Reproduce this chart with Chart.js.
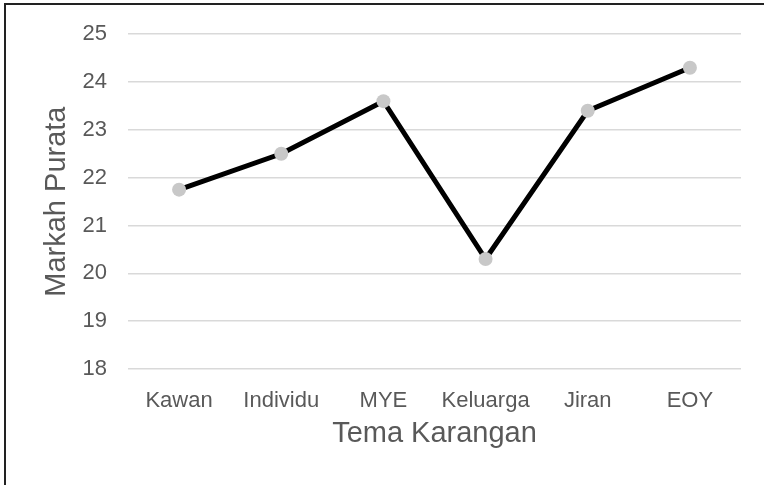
<!DOCTYPE html>
<html>
<head>
<meta charset="utf-8">
<script src="https://cdn.jsdelivr.net/npm/chart.js@4"></script>
<style>
  html, body { margin: 0; padding: 0; background: #fff; }
  #wrap { position: relative; width: 764px; height: 485px; }
  #frame {
    position: absolute; left: 4px; top: 3px; right: -10px; bottom: -10px;
    border-top: 2px solid #222; border-left: 2px solid #222;
    pointer-events: none;
  }
</style>
</head>
<body>
<div id="wrap">
  <canvas id="chart" width="764" height="485"></canvas>
  <div id="frame"></div>
</div>
<script>
// chart data
const categories = ['Kawan', 'Individu', 'MYE', 'Keluarga', 'Jiran', 'EOY'];
const markahPurata = [21.75, 22.5, 23.6, 20.3, 23.4, 24.3];
const yTicks = [18, 19, 20, 21, 22, 23, 24, 25];

const textColor = '#595959';
const fontFamily = '"Liberation Sans", Arial, sans-serif';

const ctx = document.getElementById('chart').getContext('2d');

new Chart(ctx, {
  type: 'line',
  data: {
    labels: categories,
    datasets: [{
      label: 'Markah Purata',
      data: markahPurata,
      borderColor: '#000',
      borderWidth: 5,
      pointBackgroundColor: '#c8c8c8',
      pointBorderWidth: 0,
      pointRadius: 7,
      tension: 0
    }]
  },
  options: {
    responsive: false,
    animation: false,
    layout: { padding: { top: 33, right: 23, bottom: 0, left: 0 } },
    plugins: {
      legend: { display: false },
      tooltip: { enabled: false }
    },
    scales: {
      x: {
        offset: true,
        grid: { display: false },
        border: { display: false },
        ticks: {
          color: textColor,
          font: { family: fontFamily, size: 22 },
          padding: 11,
          maxRotation: 0
        },
        title: {
          display: true,
          text: 'Tema Karangan',
          color: textColor,
          font: { family: fontFamily, size: 29 },
          padding: { top: 0, bottom: 34 }
        },
        afterFit: (scale) => { scale.height = 116; }
      },
      y: {
        min: yTicks[0],
        max: yTicks[yTicks.length - 1],
        grid: { color: '#d9d9d9', lineWidth: 1.5, drawTicks: false },
        border: { display: false },
        ticks: {
          stepSize: 1,
          color: textColor,
          font: { family: fontFamily, size: 22 },
          padding: 21
        },
        afterBuildTicks: (scale) => { scale.ticks = yTicks.map(v => ({ value: v })); },
        title: {
          display: true,
          text: 'Markah Purata',
          color: textColor,
          font: { family: fontFamily, size: 29 },
          padding: { top: 40, bottom: 0 }
        },
        afterFit: (scale) => { scale.width = 128; }
      }
    }
  }
});
</script>
</body>
</html>
